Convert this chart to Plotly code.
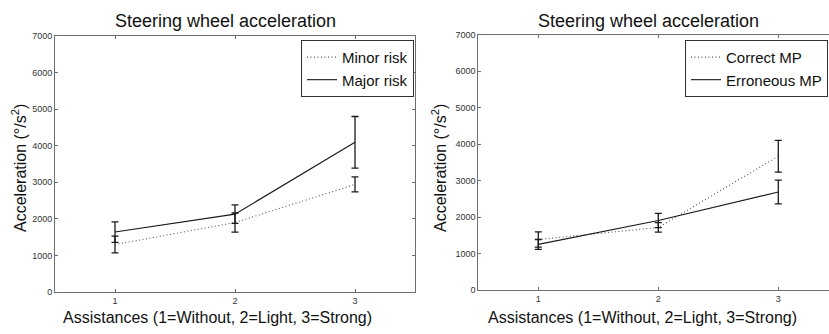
import plotly.graph_objects as go

# ---- data ----
assist = [1, 2, 3]
minor_risk = [1300, 1900, 2940]
minor_risk_err = [230, 260, 205]
major_risk = [1640, 2130, 4090]
major_risk_err = [280, 250, 705]

correct_mp = [1390, 1720, 3670]
correct_mp_err = [210, 130, 435]
erroneous_mp = [1255, 1910, 2690]
erroneous_mp_err = [135, 195, 325]

y_ticks = [0, 1000, 2000, 3000, 4000, 5000, 6000, 7000]
x_ticks = [1, 2, 3]

title_text = "Steering wheel acceleration"
xlabel = "Assistances (1=Without, 2=Light, 3=Strong)"
ylabel = "Acceleration (°/s<sup>2</sup>)"

W, H = 829, 334
FONT = "Liberation Sans, Arial, Helvetica, sans-serif"
AX = "#6e6e6e"
DARK = "#1a1a1a"

def px(x):
    return x / W

def py(y):
    return 1 - y / H

fig = go.Figure()

def add_series(x, y, err, name, dash, xa, ya, legend, color):
    fig.add_trace(go.Scatter(
        x=x, y=y, name=name, mode="lines",
        line=dict(color=color, width=1.1, dash=dash),
        error_y=dict(type="data", array=err, visible=True,
                     color=DARK, thickness=1.3, width=3.5),
        xaxis=xa, yaxis=ya, legend=legend,
    ))

DOT = "1px,2.5px"
add_series(assist, minor_risk, minor_risk_err, "Minor risk", DOT, "x", "y", "legend", "#555555")
add_series(assist, major_risk, major_risk_err, "Major risk", "solid", "x", "y", "legend", DARK)
add_series(assist, correct_mp, correct_mp_err, "Correct MP", DOT, "x2", "y2", "legend2", "#555555")
add_series(assist, erroneous_mp, erroneous_mp_err, "Erroneous MP", "solid", "x2", "y2", "legend2", DARK)

common_x = dict(tickmode="array", tickvals=x_ticks, ticks="inside", ticklen=3,
                tickcolor=AX, showline=True, linecolor=AX, linewidth=1,
                showgrid=False, zeroline=False, fixedrange=True,
                tickfont=dict(family=FONT, size=9, color="#333333"))
common_y = dict(tickmode="array", tickvals=y_ticks, range=[0, 7000], ticks="inside",
                ticklen=3, tickcolor=AX, showline=True, linecolor=AX, linewidth=1,
                showgrid=False, zeroline=False, fixedrange=True,
                tickfont=dict(family=FONT, size=9, color="#333333"))

left_l, left_r, left_t, left_b = 55, 415, 31.7, 296
right_l, right_t, right_b = 478.3, 30.7, 294
unit = (left_r - left_l) / 3.0

legend_common = dict(bgcolor="white", bordercolor="#333333", borderwidth=1,
                     font=dict(family=FONT, size=15, color="#111111"),
                     tracegroupgap=0, itemwidth=30)

fig.update_layout(
    width=W, height=H, autosize=False,
    margin=dict(l=0, r=0, t=0, b=0),
    paper_bgcolor="white", plot_bgcolor="white",
    xaxis=dict(domain=[px(left_l), px(left_r)], range=[0.5, 3.5], mirror="ticks", **common_x),
    yaxis=dict(domain=[py(left_b), py(left_t)], mirror="ticks", **common_y),
    xaxis2=dict(domain=[px(right_l), 1], range=[0.5, 0.5 + (W - right_l) / unit],
                mirror="ticks", anchor="y2", **common_x),
    yaxis2=dict(domain=[py(right_b), py(right_t)], anchor="x2", mirror=False, **common_y),
    legend=dict(x=px(left_r - 1), y=py(36), xanchor="right", yanchor="top", **legend_common),
    legend2=dict(x=px(685), y=py(36), xanchor="left", yanchor="top", **legend_common),
    showlegend=True,
)

def label(text, x, y, size, angle=0):
    return dict(text=text, x=px(x), y=py(y), xref="paper", yref="paper",
                xanchor="center", yanchor="middle", textangle=angle,
                showarrow=False, font=dict(family=FONT, size=size, color="#111111"))

ann = [
    label(title_text, 225, 16, 18),
    label(title_text, 648, 16, 18),
    label(xlabel, 217, 322, 16),
    label(xlabel, 642, 322, 16),
    label(ylabel, 19, 168, 16, -90),
    label(ylabel, 439, 168, 16, -90),
]
fig.update_layout(annotations=ann)

fig.write_html("out.html")
